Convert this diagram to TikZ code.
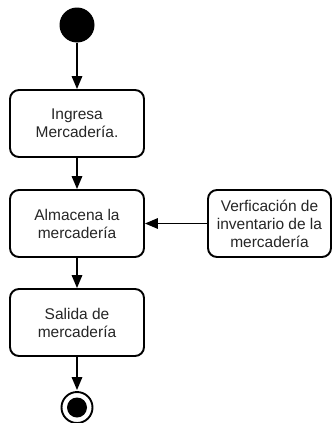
\documentclass[tikz,border=0pt]{standalone}
\usepackage{fontspec}
\setmainfont{Liberation Sans}
\usetikzlibrary{arrows.meta,positioning}
\tikzset{
  actbox/.style={draw=black, line width=1.9pt, rounded corners=9pt, align=center,
    minimum width=134pt, minimum height=67pt, inner sep=0pt, fill=white,
    font=\fontsize{15.5}{18}\selectfont, text=black!85},
  conn/.style={line width=1.6pt, -{Triangle[length=13pt,width=10.5pt]}},
}
\begin{document}
\begin{tikzpicture}[x=1pt,y=1pt]
\useasboundingbox (0,0) rectangle (333,-423);
\fill[white] (0,0) rectangle (333,-423);
\node[circle, fill=black, minimum size=35pt, inner sep=0pt] (start) at (77,-25) {};
\node[actbox] (b1) at (77,-123.5) {Ingresa\\Mercadería.};
\node[actbox] (b2) at (77,-223.5) {Almacena la\\mercadería};
\node[actbox, minimum width=123pt] (b4) at (269.5,-223.5) {Verficación de\\inventario de la\\mercadería};
\node[actbox] (b3) at (77,-322.5) {Salida de\\mercadería};
\node[circle, draw=black, line width=1.9pt, minimum size=31pt, inner sep=0pt] (end) at (77,-407.5) {};
\node[circle, fill=black, minimum size=20pt, inner sep=0pt] (endin) at (end.center) {};
\draw[conn] (start) -- (b1);
\draw[conn] (b1) -- (b2);
\draw[conn] (b4) -- (b2);
\draw[conn] (b2) -- (b3);
\draw[conn] (b3) -- ([yshift=1pt]end.north);
\end{tikzpicture}
\end{document}
